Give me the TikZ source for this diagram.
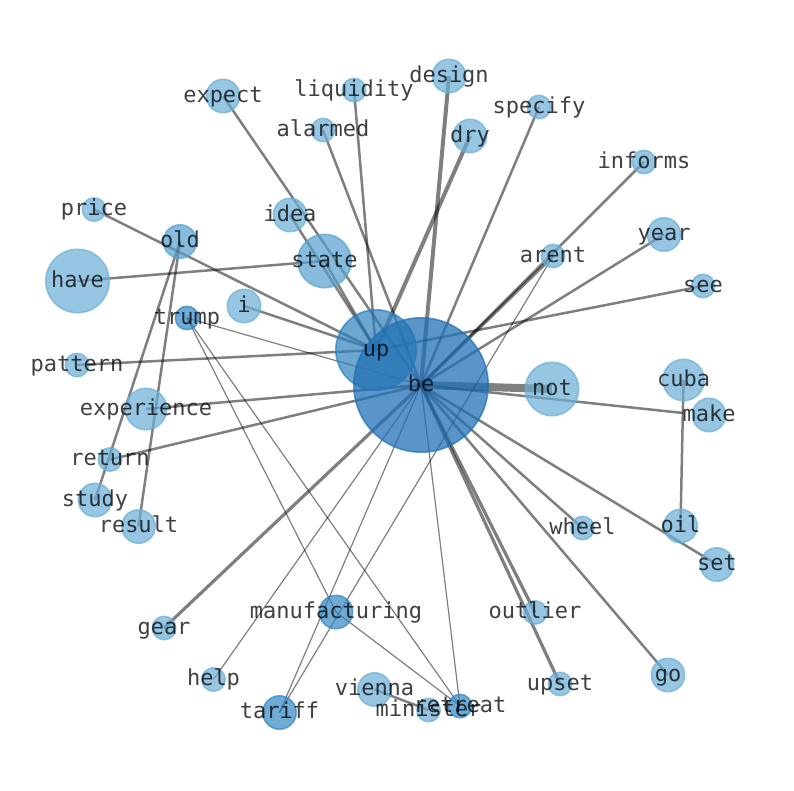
\documentclass[tikz,border=0pt]{standalone}
\usepackage{fontspec}
\setmonofont{DejaVu Sans Mono}
\definecolor{cA}{RGB}{107,174,214}
\definecolor{cB}{RGB}{85,160,208}
\definecolor{cC}{RGB}{50,135,195}
\definecolor{cUp}{RGB}{45,128,190}
\definecolor{cBe}{RGB}{33,113,181}
\pgfdeclarelayer{edgelayer}
\pgfsetlayers{edgelayer,main}
\tikzset{
  nd/.style 2 args={circle, inner sep=0pt, outer sep=0pt, minimum size=#1, fill=#2, draw=#2, fill opacity=0.7, draw opacity=0.7, line width=1.6pt},
  sm/.style={nd={23.4pt}{cA}},
  md/.style={nd={33.4pt}{cA}},
  lbl/.style={font=\ttfamily\fontsize{22}{22}\selectfont, text=black, text opacity=0.75, anchor=base, inner sep=0pt},
  ed/.style={draw=black, draw opacity=0.5, line width=2.5pt},
  edthin/.style={draw=black, draw opacity=0.5, line width=1.2pt},
  edmid/.style={draw=black, draw opacity=0.5, line width=3.2pt},
  edthick/.style={draw=black, draw opacity=0.5, line width=4pt},
  edheavy/.style={draw=black, draw opacity=0.5, line width=8pt}
}
\begin{document}
\begin{tikzpicture}[x=1pt,y=-1pt]
\useasboundingbox (0,0) rectangle (794,790);
% nodes (circles)
\node[nd={80.4pt}{cUp}] (up) at (376,350) {};
\node[nd={134.4pt}{cBe}, fill opacity=0.75] (be) at (421,385) {};
\node[nd={53.4pt}{cA}] (not) at (552,389) {};
\node[nd={63.4pt}{cA}] (have) at (77.5,281) {};
\node[nd={53.4pt}{cB}] (state) at (324.5,261) {};
\node[nd={33.4pt}{cB}] (old) at (180,241.5) {};
\node[sm] (price) at (94,209.5) {};
\node[md] (idea) at (290,215) {};
\node[md] (expect) at (223,96) {};
\node[sm] (liquidity) at (354,90) {};
\node[sm] (alarmed) at (323,130) {};
\node[md] (design) at (449,76) {};
\node[md] (dry) at (470,136) {};
\node[sm] (specify) at (539,107) {};
\node[sm] (informs) at (644,162) {};
\node[sm] (arent) at (553,256) {};
\node[md] (year) at (664,234.5) {};
\node[sm] (see) at (703,286) {};
\node[md] (i) at (244,306) {};
\node[nd={23.4pt}{cC}] (trump) at (187,318) {};
\node[sm] (pattern) at (77,365) {};
\node[nd={41.4pt}{cA}] (experience) at (146,409) {};
\node[sm] (return) at (110,459.5) {};
\node[md] (study) at (95,500) {};
\node[md] (result) at (138.5,526.5) {};
\node[nd={41.4pt}{cA}] (cuba) at (683.5,380) {};
\node[md] (make) at (709,415) {};
\node[md] (oil) at (680.5,526) {};
\node[md] (set) at (717,564.5) {};
\node[sm] (wheel) at (582.5,528) {};
\node[sm] (outlier) at (535,612.5) {};
\node[sm] (upset) at (560,684) {};
\node[md] (go) at (668,675) {};
\node[sm] (gear) at (164,628) {};
\node[nd={33.4pt}{cC}] (manufacturing) at (336,612) {};
\node[sm] (help) at (213.5,679.5) {};
\node[nd={33.4pt}{cC}] (tariff) at (279.5,712.5) {};
\node[md] (vienna) at (374.5,689.5) {};
\node[sm] (minister) at (428.5,710) {};
\node[nd={23.4pt}{cC}] (retreat) at (460,706) {};
\coordinate (makeend) at (683,413);
% edges
\begin{pgfonlayer}{edgelayer}
\draw[ed] (up.center) -- (liquidity.center);
\draw[ed] (up.center) -- (idea.center);
\draw[ed] (up.center) -- (state.center);
\draw[ed] (up.center) -- (price.center);
\draw[ed] (up.center) -- (i.center);
\draw[ed] (up.center) -- (pattern.center);
\draw[ed] (up.center) -- (see.center);
\draw[edthick] (up.center) -- (dry.center);
\draw[ed] (be.center) -- (expect.center);
\draw[ed] (be.center) -- (alarmed.center);
\draw[edthick] (be.center) -- (design.center);
\draw[ed] (be.center) -- (specify.center);
\draw[ed] (be.center) -- (informs.center);
\draw[edmid] (be.center) -- (arent.center);
\draw[ed] (be.center) -- (year.center);
\draw[edheavy] (be.center) -- (not.center);
\draw[ed] (be.center) -- (makeend);
\draw[ed] (be.center) -- (set.center);
\draw[ed] (be.center) -- (wheel.center);
\draw[ed] (be.center) -- (go.center);
\draw[edmid] (be.center) -- (outlier.center);
\draw[edmid] (be.center) -- (upset.center);
\draw[edthin] (be.center) -- (retreat.center);
\draw[edthin] (be.center) -- (help.center);
\draw[edthin] (be.center) -- (tariff.center);
\draw[edmid] (be.center) -- (gear.center);
\draw[ed] (be.center) -- (return.center);
\draw[ed] (be.center) -- (experience.center);
\draw[edthin] (be.center) -- (trump.center);
\draw[ed] (have.center) -- (state.center);
\draw[ed] (old.center) -- (study.center);
\draw[ed] (old.center) -- (result.center);
\draw[ed] (cuba.center) -- (oil.center);
\draw[edthin] (arent.center) -- (tariff.center);
\draw[edthin] (trump.center) -- (manufacturing.center);
\draw[edthin] (trump.center) -- (retreat.center);
\draw[edthin] (manufacturing.center) -- (retreat.center);
\draw[ed] (vienna.center) -- (minister.center);
\end{pgfonlayer}
% labels
\foreach \n in {up,be,not,have,state,old,price,idea,expect,liquidity,alarmed,design,dry,specify,informs,arent,year,see,i,trump,pattern,experience,return,study,result,cuba,make,oil,set,wheel,outlier,upset,go,gear,manufacturing,help,tariff,vienna,minister,retreat}
  \node[lbl] (\n-l) at ([yshift=-6pt]\n.center) {\n};
\end{tikzpicture}
\end{document}
